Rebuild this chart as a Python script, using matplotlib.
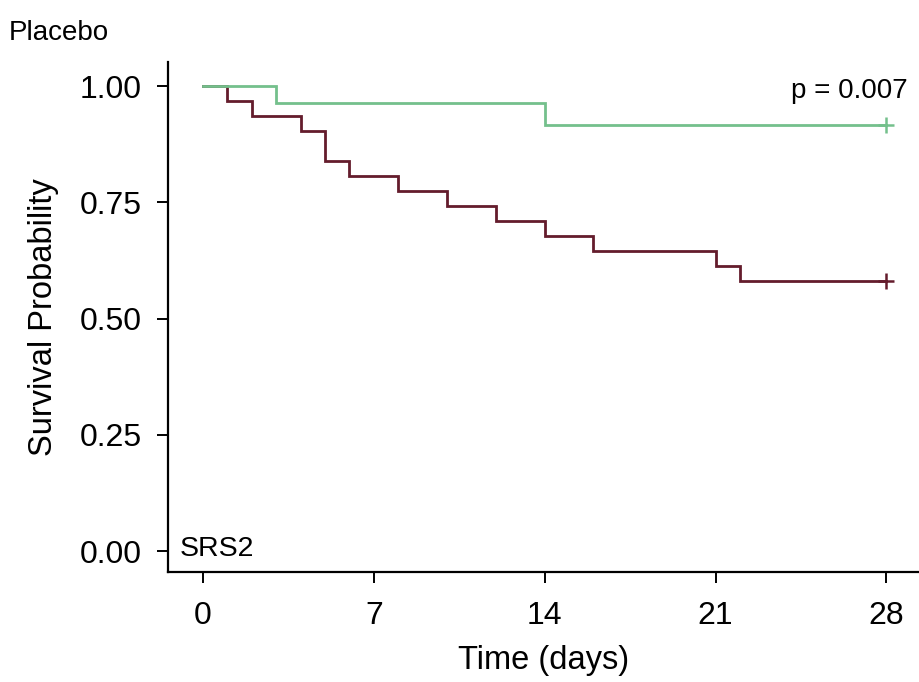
import numpy as np
import matplotlib
matplotlib.use("Agg")
import matplotlib.pyplot as plt

plt.rcParams['font.family'] = ['Liberation Sans', 'DejaVu Sans']

# Kaplan-Meier step points (time in days, survival probability)
low_times = [0, 3, 14]
low_surv = [1.0, 0.963, 0.917]
high_times = [0, 1, 2, 4, 5, 6, 8, 10, 12, 14, 16, 21, 22]
high_surv = [1.0, 0.968, 0.935, 0.903, 0.839, 0.806, 0.774, 0.742, 0.710,
             0.677, 0.645, 0.613, 0.581]
end_time = 28
x_ticks = [0, 7, 14, 21, 28]
y_ticks = [0.0, 0.25, 0.5, 0.75, 1.0]
p_label = "p = 0.007"
panel_label = "SRS2"
group_title = "Placebo"

green = '#74c08c'
maroon = '#641c2c'


def km_line(ax, times, surv, color):
    t = list(times) + [end_time]
    s = list(surv) + [surv[-1]]
    ax.step(t, s, where='post', color=color, lw=2.0, solid_joinstyle='miter')
    ax.plot([end_time], [surv[-1]], marker='+', color=color, ms=12, mew=1.8)


fig = plt.figure(figsize=(9.2, 6.82), dpi=100)
ax = fig.add_axes([0.1826, 0.1613, 0.8154, 0.7477])

km_line(ax, high_times, high_surv, maroon)
km_line(ax, low_times, low_surv, green)

ax.set_xlim(-1.43, 29.3)
ax.set_ylim(-0.045, 1.052)
ax.set_xticks(x_ticks)
ax.set_yticks(y_ticks)
ax.set_yticklabels([f"{v:.2f}" for v in y_ticks])
ax.tick_params(labelsize=23, length=8, width=1.4, colors='black')
ax.tick_params(axis='y', pad=11)
ax.tick_params(axis='x', pad=13)

for side in ['top', 'right']:
    ax.spines[side].set_visible(False)
for side in ['left', 'bottom']:
    ax.spines[side].set_linewidth(1.6)

ax.set_xlabel("Time (days)", fontsize=23.5, labelpad=10)
ax.set_ylabel("Survival Probability", fontsize=23.5, labelpad=15)

ax.text(28.85, 0.99, p_label, ha='right', va='center', fontsize=20)
ax.text(-0.94, 0.005, panel_label, ha='left', va='center', fontsize=20.5)
fig.text(0.009, 0.952, group_title, ha='left', va='center', fontsize=20)

fig.savefig("out.png", dpi=100)
